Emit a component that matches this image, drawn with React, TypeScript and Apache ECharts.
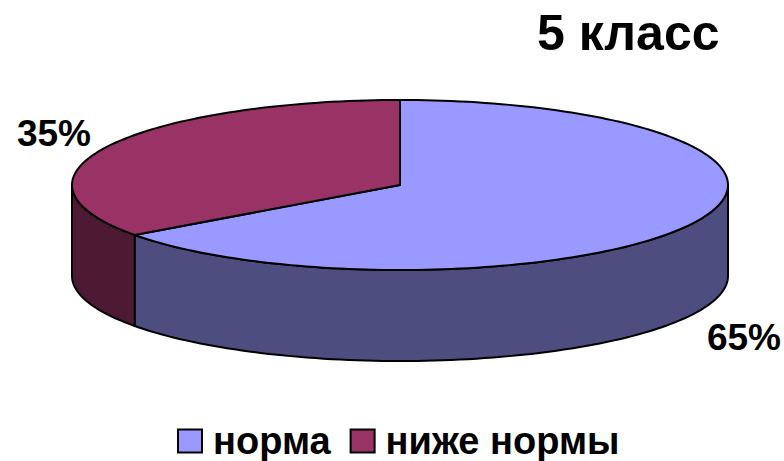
import React, { useEffect, useRef } from "react";
import * as echarts from "echarts";

const categories = ["норма", "ниже нормы"];
const shares = [65, 35];
const topColors = ["#9999FF", "#993366"];
const sideColors = ["#4D4D80", "#4D1933"];
const labelAnchors = [[744, 337], [54, 133]];

const CX = 400, CY = 185, RX = 328, RY = 85, DEPTH = 91;
const FONT = "'Liberation Sans', Arial, sans-serif";
const total = shares.reduce((a, b) => a + b, 0);
const pt = (deg: number, dy = 0) => {
  const r = (deg * Math.PI) / 180;
  return [CX + RX * Math.sin(r), CY - RY * Math.cos(r) + dy];
};
const arc = (a: number, b: number, dy = 0) => {
  const out: number[][] = [];
  const n = Math.max(2, Math.ceil(Math.abs(b - a) / 1.5));
  for (let i = 0; i <= n; i++) out.push(pt(a + ((b - a) * i) / n, dy));
  return out;
};

const sliceSeries = (index: number) => {
  const before = shares.slice(0, index).reduce((a, b) => a + b, 0);
  const start = (before / total) * 360;
  return {
    type: "custom",
    name: categories[index],
    coordinateSystem: "none",
    data: [[shares[index]]],
    itemStyle: { color: topColors[index], borderColor: "#000", borderWidth: 2 },
    renderItem: (_: any, api: any) => {
      const end = start + (api.value(0) / total) * 360;
      const stroke = { stroke: "#000", lineWidth: 2, lineJoin: "round" };
      const children: any[] = [];
      const fa = Math.max(start, 90), fb = Math.min(end, 270);
      if (fb > fa) {
        const top = arc(fa, fb);
        const bottom = arc(fb, fa, DEPTH);
        children.push({
          type: "polygon",
          shape: { points: [...top, ...bottom] },
          style: { fill: sideColors[index], ...stroke },
        });
      }
      children.push({
        type: "polygon",
        shape: { points: [[CX, CY], ...arc(start, end)] },
        style: { fill: topColors[index], ...stroke },
      });
      children.push({
        type: "text",
        x: labelAnchors[index][0],
        y: labelAnchors[index][1],
        style: {
          text: `${api.value(0)}%`,
          fill: "#000",
          font: `bold 37px ${FONT}`,
          align: "center",
          verticalAlign: "middle",
        },
      });
      return { type: "group", children };
    },
  };
};

export default function App() {
  const ref = useRef<HTMLDivElement>(null);
  useEffect(() => {
    document.body.style.margin = "0";
    const chart = echarts.init(ref.current!, undefined, { renderer: "svg" });
    chart.setOption({
      animation: false,
      backgroundColor: "#fff",
      title: {
        text: "5 класс",
        left: 537,
        top: 8,
        textStyle: { fontFamily: FONT, fontWeight: "bold", fontSize: 50, color: "#000" },
        padding: 0,
      },
      legend: {
        left: 177,
        top: 422,
        padding: 0,
        itemWidth: 24,
        itemHeight: 23,
        itemGap: 19,
        icon: "rect",
        data: categories,
        textStyle: { fontFamily: FONT, fontWeight: "bold", fontSize: 38, color: "#000", padding: [0, 0, 0, 6] },
      },
      series: shares.map((_, i) => sliceSeries(i)),
    });
    return () => chart.dispose();
  }, []);
  return <div ref={ref} style={{ width: 784, height: 461 }} />;
}
